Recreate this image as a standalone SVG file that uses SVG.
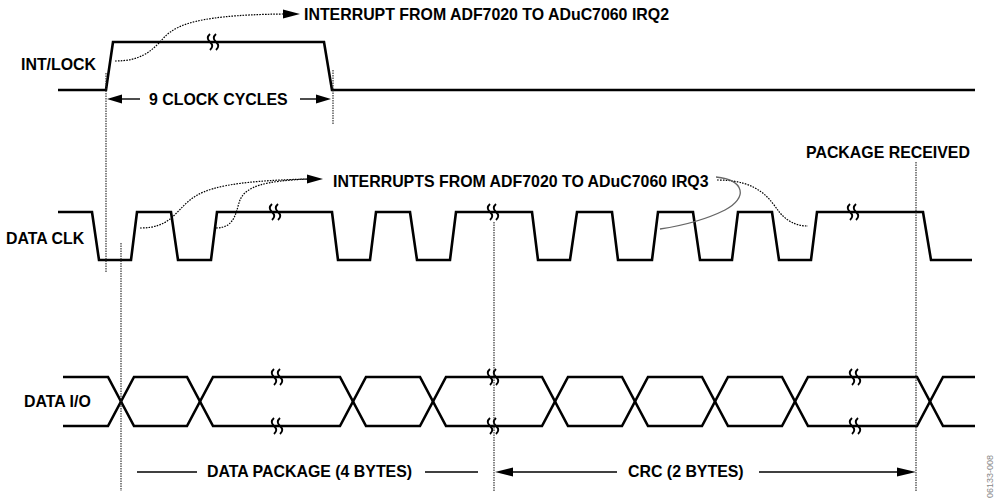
<svg xmlns="http://www.w3.org/2000/svg" width="996" height="502" viewBox="0 0 996 502">
<defs>
<style>
.t{font-family:"Liberation Sans",Arial,sans-serif;font-weight:bold;font-size:15.9px;fill:#000}
.sig{fill:none;stroke:#000;stroke-width:2.6;stroke-linejoin:miter}
.dv{fill:none;stroke:#222;stroke-width:1.1;stroke-dasharray:1.5 1}
.dc{fill:none;stroke:#000;stroke-width:1.2;stroke-dasharray:1.6 1.2}
.ln{fill:none;stroke:#000;stroke-width:1.4}
.ah{fill:#000}
</style>
<g id="brk">
<path d="M-3,-8 q-4.5,4 0,8 q4.5,4 0,8 M3,-8 q-4.5,4 0,8 q4.5,4 0,8" fill="none" stroke="#000" stroke-width="1.9"/>
</g>
</defs>
<rect width="996" height="502" fill="#fff"/>

<g id="int-lock">
<text class="t" x="21" y="69.5">INT/LOCK</text>
<path class="sig" d="M58,90 H106 L113,42 H324 L332,90 H975"/>
<use href="#brk" x="213" y="42"/>
</g>

<g id="data-clk">
<text class="t" x="6" y="243.5">DATA CLK</text>
<path class="sig" d="M58,212 H92 L99,260 H131 L137,212 H171 L178,260 H211 L217,212 H332 L338,260 H370 L376,212 H410 L417,260 H450 L456,212 H532 L538,260 H570 L577,212 H612 L618,260 H652 L658,212 H693 L700,260 H732 L738,212 H772 L779,260 H811 L817,212 H923 L931,260 H972"/>
<use href="#brk" x="275" y="212"/>
<use href="#brk" x="493" y="212"/>
<use href="#brk" x="853" y="212"/>
</g>

<g id="data-io">
<text class="t" x="24" y="407">DATA I/O</text>
<path class="sig" d="M63,377 H108 L134,426 H187 L213,377 H340 L366,426 H420 L446,377 H542 L568,426 H622 L648,377 H702 L728,426 H782 L808,377 H917 L943,426 H975"/>
<path class="sig" d="M63,426 H108 L134,377 H187 L213,426 H340 L366,377 H420 L446,426 H542 L568,377 H622 L648,426 H702 L728,377 H782 L808,426 H917 L943,377 H975"/>
<use href="#brk" x="277" y="377"/>
<use href="#brk" x="277" y="426"/>
<use href="#brk" x="493" y="377"/>
<use href="#brk" x="493" y="426"/>
<use href="#brk" x="855" y="377"/>
<use href="#brk" x="855" y="426"/>
</g>

<g id="labels">
<text class="t" x="304" y="19.5">INTERRUPT FROM ADF7020 TO ADuC7060 IRQ2</text>
<text class="t" x="149" y="104.5">9 CLOCK CYCLES</text>
<text class="t" x="333" y="187">INTERRUPTS FROM ADF7020 TO ADuC7060 IRQ3</text>
<text class="t" x="806" y="158">PACKAGE RECEIVED</text>
<text class="t" x="207" y="477">DATA PACKAGE (4 BYTES)</text>
<text class="t" x="628" y="477">CRC (2 BYTES)</text>
<text x="0" y="0" transform="translate(993,498) rotate(-90)" font-family="Liberation Sans,Arial,sans-serif" font-size="9" fill="#888">06133-008</text>
</g>

<g id="connectors">
<line class="dv" x1="106" y1="73" x2="106" y2="273"/>
<line class="dv" x1="333" y1="70" x2="333" y2="125"/>
<line class="dv" x1="121" y1="243" x2="121" y2="491"/>
<line class="dv" x1="494" y1="222" x2="494" y2="491"/>
<line class="dv" x1="916" y1="162" x2="916" y2="491"/>

<path class="dc" d="M115,61 C140,61 150,52 160,42 C172,28 185,15 284,14"/>
<polygon class="ah" points="300,14 283,9.5 283,18.5"/>

<line class="ln" x1="120" y1="99" x2="140" y2="99"/>
<polygon class="ah" points="107,99 122,94.5 122,103.5"/>
<line class="ln" x1="300" y1="99" x2="318" y2="99"/>
<polygon class="ah" points="331,99 316,94.5 316,103.5"/>

<path class="dc" d="M140,228 C170,228 175,212 190,200 C205,188 230,181 308,179"/>
<path class="dc" d="M216,228 C236,228 236,210 240,200 C246,186 265,181 308,179"/>
<polygon class="ah" points="323,179 307,174.5 307,183.5"/>

<path class="dc" d="M717,180 C760,180 770,200 780,213 C790,224 800,226 808,226"/>
<path d="M716,177 C745,180 748,198 725,210 C705,220 680,226 660,229" fill="none" stroke="#666" stroke-width="1.3"/>

<line class="ln" x1="137" y1="472" x2="197" y2="472"/>
<line class="ln" x1="425" y1="472" x2="478" y2="472"/>
<line class="ln" x1="510" y1="472" x2="617" y2="472"/>
<polygon class="ah" points="495,472 513,467.5 513,476.5"/>
<line class="ln" x1="759" y1="472" x2="900" y2="472"/>
<polygon class="ah" points="916,472 897,467.5 897,476.5"/>
</g>
</svg>
